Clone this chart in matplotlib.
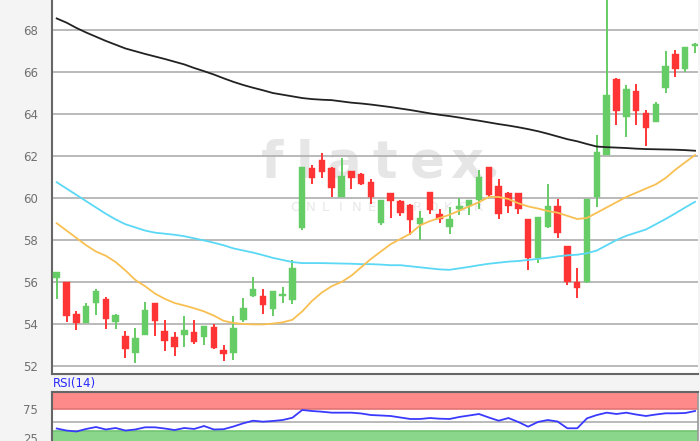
import matplotlib
matplotlib.use("Agg")
import matplotlib.pyplot as plt
import numpy as np

# ---- data ----
opens = [56.2, 56.0, 54.5, 54.06, 55.0, 55.2, 54.1, 53.45, 52.6, 53.5,
         55.0, 53.65, 53.4, 53.5, 53.6, 53.4, 53.85, 52.75, 52.6, 54.2,
         55.35, 55.35, 54.7, 55.33, 55.15, 58.55, 61.45, 61.8, 61.45, 60.05,
         61.3, 61.15, 60.75, 58.8, 60.25, 59.85, 59.65, 58.75, 60.3, 59.25,
         58.6, 59.5, 59.6, 59.9, 61.5, 60.55, 60.25, 60.25, 59.0, 57.15,
         58.6, 59.6, 57.7, 56.0, 56.0, 60.05, 62.05, 65.65, 63.85, 65.1,
         64.05, 63.6, 65.25, 66.85, 66.15, 67.25]
closes = [56.5, 54.4, 54.05, 54.87, 55.55, 54.25, 54.45, 52.8, 53.35, 54.65,
          54.15, 53.2, 52.9, 53.7, 53.15, 53.9, 52.85, 52.55, 53.8, 54.75,
          55.65, 54.9, 55.55, 55.43, 56.65, 61.5, 60.95, 61.25, 60.5, 61.05,
          60.95, 60.65, 60.05, 59.9, 59.85, 59.3, 58.95, 59.05, 59.45, 59.0,
          59.0, 59.6, 59.9, 61.0, 60.15, 59.25, 59.6, 59.5, 57.15, 59.1,
          59.6, 58.35, 56.0, 55.7, 59.95, 62.2, 64.9, 64.15, 65.2, 64.15,
          63.35, 64.5, 66.3, 66.15, 67.2, 67.35]
highs = [56.5, 56.0, 54.6, 55.0, 55.65, 55.3, 54.5, 53.65, 53.8, 55.05,
         55.0, 54.2, 53.6, 54.4, 54.2, 53.9, 54.0, 53.0, 54.4, 55.25,
         56.25, 55.65, 55.55, 55.75, 57.05, 61.5, 61.55, 62.15, 61.5, 61.9,
         61.3, 61.2, 60.9, 59.9, 60.25, 59.9, 59.7, 59.4, 60.3, 59.5,
         59.55, 60.0, 59.9, 61.35, 61.5, 60.9, 60.3, 60.25, 59.0, 59.1,
         60.65, 59.95, 57.7, 56.65, 59.95, 63.0, 70.5, 65.7, 65.4, 65.45,
         64.2, 64.55, 67.0, 67.05, 67.2, 67.37]
lows = [55.2, 54.1, 53.7, 54.06, 54.45, 53.75, 53.75, 52.4, 52.15, 53.5,
        53.45, 52.7, 52.5, 52.9, 53.05, 53.0, 52.8, 52.25, 52.3, 54.1,
        55.3, 54.5, 54.4, 55.0, 54.95, 58.5, 60.65, 60.95, 60.05, 60.05,
        60.45, 60.6, 59.7, 58.7, 59.05, 59.15, 58.25, 58.0, 59.25, 58.8,
        58.3, 59.2, 59.2, 59.5, 60.05, 59.0, 59.3, 59.25, 56.55, 56.9,
        58.55, 58.1, 55.85, 55.25, 55.95, 59.55, 62.05, 63.5, 62.9, 63.5,
        62.5, 63.6, 65.0, 65.75, 66.0, 66.9]

ma_black = [68.55, 68.35, 68.1, 67.88, 67.68, 67.48, 67.3, 67.12, 66.99, 66.86,
            66.74, 66.62, 66.49, 66.36, 66.19, 66.04, 65.88, 65.7, 65.53, 65.38,
            65.25, 65.13, 65.0, 64.92, 64.84, 64.76, 64.71, 64.68, 64.66, 64.6,
            64.54, 64.5, 64.45, 64.39, 64.33, 64.26, 64.19, 64.11, 64.03, 63.96,
            63.9, 63.83, 63.75, 63.68, 63.6, 63.52, 63.45, 63.37, 63.28, 63.18,
            63.06, 62.93, 62.8, 62.7, 62.57, 62.45, 62.42, 62.4, 62.38, 62.35,
            62.33, 62.32, 62.31, 62.3, 62.28, 62.25]
ma_cyan = [60.75, 60.45, 60.15, 59.85, 59.55, 59.25, 58.98, 58.75, 58.6, 58.45,
           58.35, 58.3, 58.25, 58.18, 58.08, 57.98, 57.87, 57.75, 57.6, 57.5,
           57.4, 57.28, 57.15, 57.05, 56.95, 56.9, 56.9, 56.9, 56.89, 56.88,
           56.87, 56.85, 56.85, 56.83, 56.8, 56.8, 56.75, 56.7, 56.65, 56.6,
           56.58, 56.65, 56.72, 56.8, 56.87, 56.92, 56.97, 57.0, 57.05, 57.1,
           57.15, 57.22, 57.27, 57.3, 57.37, 57.5, 57.75, 58.0, 58.2, 58.35,
           58.5, 58.75, 59.0, 59.27, 59.55, 59.82]
ma_orange = [58.8, 58.45, 58.1, 57.75, 57.45, 57.25, 56.95, 56.55, 56.1, 55.8,
             55.45, 55.2, 55.0, 54.88, 54.75, 54.6, 54.4, 54.15, 54.05, 54.0,
             53.98, 53.98, 54.02, 54.08, 54.2, 54.6, 55.1, 55.5, 55.8, 56.0,
             56.3, 56.7, 57.1, 57.45, 57.8, 58.05, 58.3, 58.7, 58.9, 59.05,
             59.2, 59.4, 59.6, 59.8, 60.05, 60.05, 59.95, 59.75, 59.6, 59.5,
             59.38, 59.3, 59.15, 59.0, 59.05, 59.3, 59.55, 59.8, 60.05, 60.25,
             60.45, 60.65, 60.95, 61.35, 61.7, 62.05]
rsi = [41.0, 37.5, 35.8, 40.2, 43.6, 39.3, 41.9, 37.5, 39.3, 43.1,
       43.1, 41.0, 38.4, 41.9, 40.2, 45.4, 39.3, 39.8, 44.5, 50.1,
       54.6, 52.9, 54.1, 55.8, 59.8, 73.3, 71.5, 70.3, 68.6, 68.6,
       68.6, 67.2, 64.5, 63.7, 62.8, 60.2, 57.6, 57.6, 59.3, 58.1,
       57.6, 61.1, 63.7, 66.3, 60.2, 54.6, 59.3, 52.4, 44.2, 52.4,
       55.8, 53.2, 41.4, 41.4, 58.8, 64.5, 68.6, 66.3, 68.6, 65.4,
       62.8, 65.4, 67.5, 67.5, 68.0, 71.5]

price_ticks = [52, 54, 56, 58, 60, 62, 64, 66, 68]
rsi_ticks = [25, 75]

# ---- style ----
BG = '#f4f4f4'
GREEN = '#66cc66'
RED = '#ff3535'
W, H = 700, 441

fig = plt.figure(figsize=(7.0, 4.41), dpi=100, facecolor=BG)

# main price axes
top_px, bot_px, left_px, right_px = 0.0, 374.3, 52.0, 698.0
ax = fig.add_axes([left_px / W, (H - bot_px) / H, (right_px - left_px) / W, (bot_px - top_px) / H])
ax.set_facecolor('white')
x = np.arange(len(opens))
ax.set_xlim(-0.479, 65.3)
ax.set_ylim(51.605, 69.4286)

for yv in price_ticks:
    ax.axhline(yv, color='#b4b4b4', lw=1.3, zorder=1)

# watermark
wm_letters = ['f', 'l', 'a', 't', 'e', 'x']
wm_px = [272, 304, 344, 385, 427, 467]
for ch, px in zip(wm_letters, wm_px):
    ax.text((px - 56.7) / 9.82, 68 - (178 - 30) / 21.0, ch, fontsize=37, fontweight='bold',
            color='#e6e6e6', ha='center', va='baseline', zorder=0.5, family='DejaVu Sans')
ax.plot([(491 - 56.7) / 9.82], [68 - (172 - 30) / 21.0], 'o', ms=6, color='#e6e6e6', zorder=0.5)
sub = 'ONLINE BROKER'
for k, ch in enumerate(sub):
    px = 295 + 15.3 * k
    ax.text((px - 56.7) / 9.82, 68 - (207 - 30) / 21.0, ch, fontsize=9.5, color='#e8e8e8',
            ha='center', va='center', zorder=0.5)

# candles
o = np.array(opens); c = np.array(closes); h = np.array(highs); l = np.array(lows)
up = c >= o
cols = np.where(up, GREEN, RED)
ax.vlines(x, l, h, colors=cols, lw=1.4, zorder=3)
body_bot = np.minimum(o, c)
body_h = np.maximum(np.abs(c - o), 0.05)
ax.bar(x, body_h, bottom=body_bot, width=0.66, color=cols, edgecolor=cols, lw=0.3, zorder=3)

# moving averages
ax.plot(x, ma_black, color='#222222', lw=1.3, zorder=4)
ax.plot(x, ma_cyan, color='#5ad8f5', lw=1.3, zorder=4)
ax.plot(x, ma_orange, color='#f8c052', lw=1.3, zorder=4)

ax.set_yticks(price_ticks)
ax.set_yticklabels([str(v) for v in price_ticks])
ax.tick_params(axis='y', length=0, pad=10, labelsize=8.5, labelcolor='#707070')
ax.set_xticks([])
for s in ['top', 'right']:
    ax.spines[s].set_visible(False)
ax.spines['left'].set_color('#666666'); ax.spines['left'].set_linewidth(1.5)
ax.spines['bottom'].set_color('#666666'); ax.spines['bottom'].set_linewidth(1.5)

# RSI label
fig.text(53 / W, (H - 384) / H, 'RSI(14)', color='#2a2aff', fontsize=8.5, va='center', ha='left')

# RSI axes (extends below figure bottom, as in the reference)
r_top, r_bot = 392.3, 450.0
ax2 = fig.add_axes([left_px / W, (H - r_bot) / H, (right_px - left_px) / W, (r_bot - r_top) / H])
ax2.set_facecolor('white')
k = 0.574
ymax = 75 + (409 - r_top) / k
ymin = 25 - (r_bot - 437.7) / k
ax2.set_xlim(-0.479, 65.3)
ax2.set_ylim(ymin, ymax)
green_top = 75 - (431 - 409) / k
mid = 75 - (421.7 - 409) / k
ax2.axhspan(75, ymax, color='#ff8a8a', zorder=1, lw=0)
ax2.axhline(75, color='#e27474', lw=1.2, zorder=1.5)
ax2.axhspan(ymin, green_top, color='#8ad68a', zorder=1, lw=0)
ax2.axhline(green_top, color='#72c472', lw=1.2, zorder=1.5)
ax2.axhline(mid, color='#b4b4b4', lw=1.3, zorder=1.5)
ax2.plot(x, rsi, color='#3a3aff', lw=1.3, zorder=3)
ax2.set_yticks(rsi_ticks)
ax2.set_yticklabels([str(v) for v in rsi_ticks])
ax2.tick_params(axis='y', length=0, pad=10, labelsize=8.5, labelcolor='#707070')
ax2.set_xticks([])
ax2.spines['top'].set_color('#666666'); ax2.spines['top'].set_linewidth(1.5)
ax2.spines['left'].set_color('#666666'); ax2.spines['left'].set_linewidth(1.5)
ax2.spines['right'].set_color('#999999'); ax2.spines['right'].set_linewidth(1.2)
ax2.spines['bottom'].set_visible(False)

fig.savefig('out.png', dpi=100, facecolor=BG)
